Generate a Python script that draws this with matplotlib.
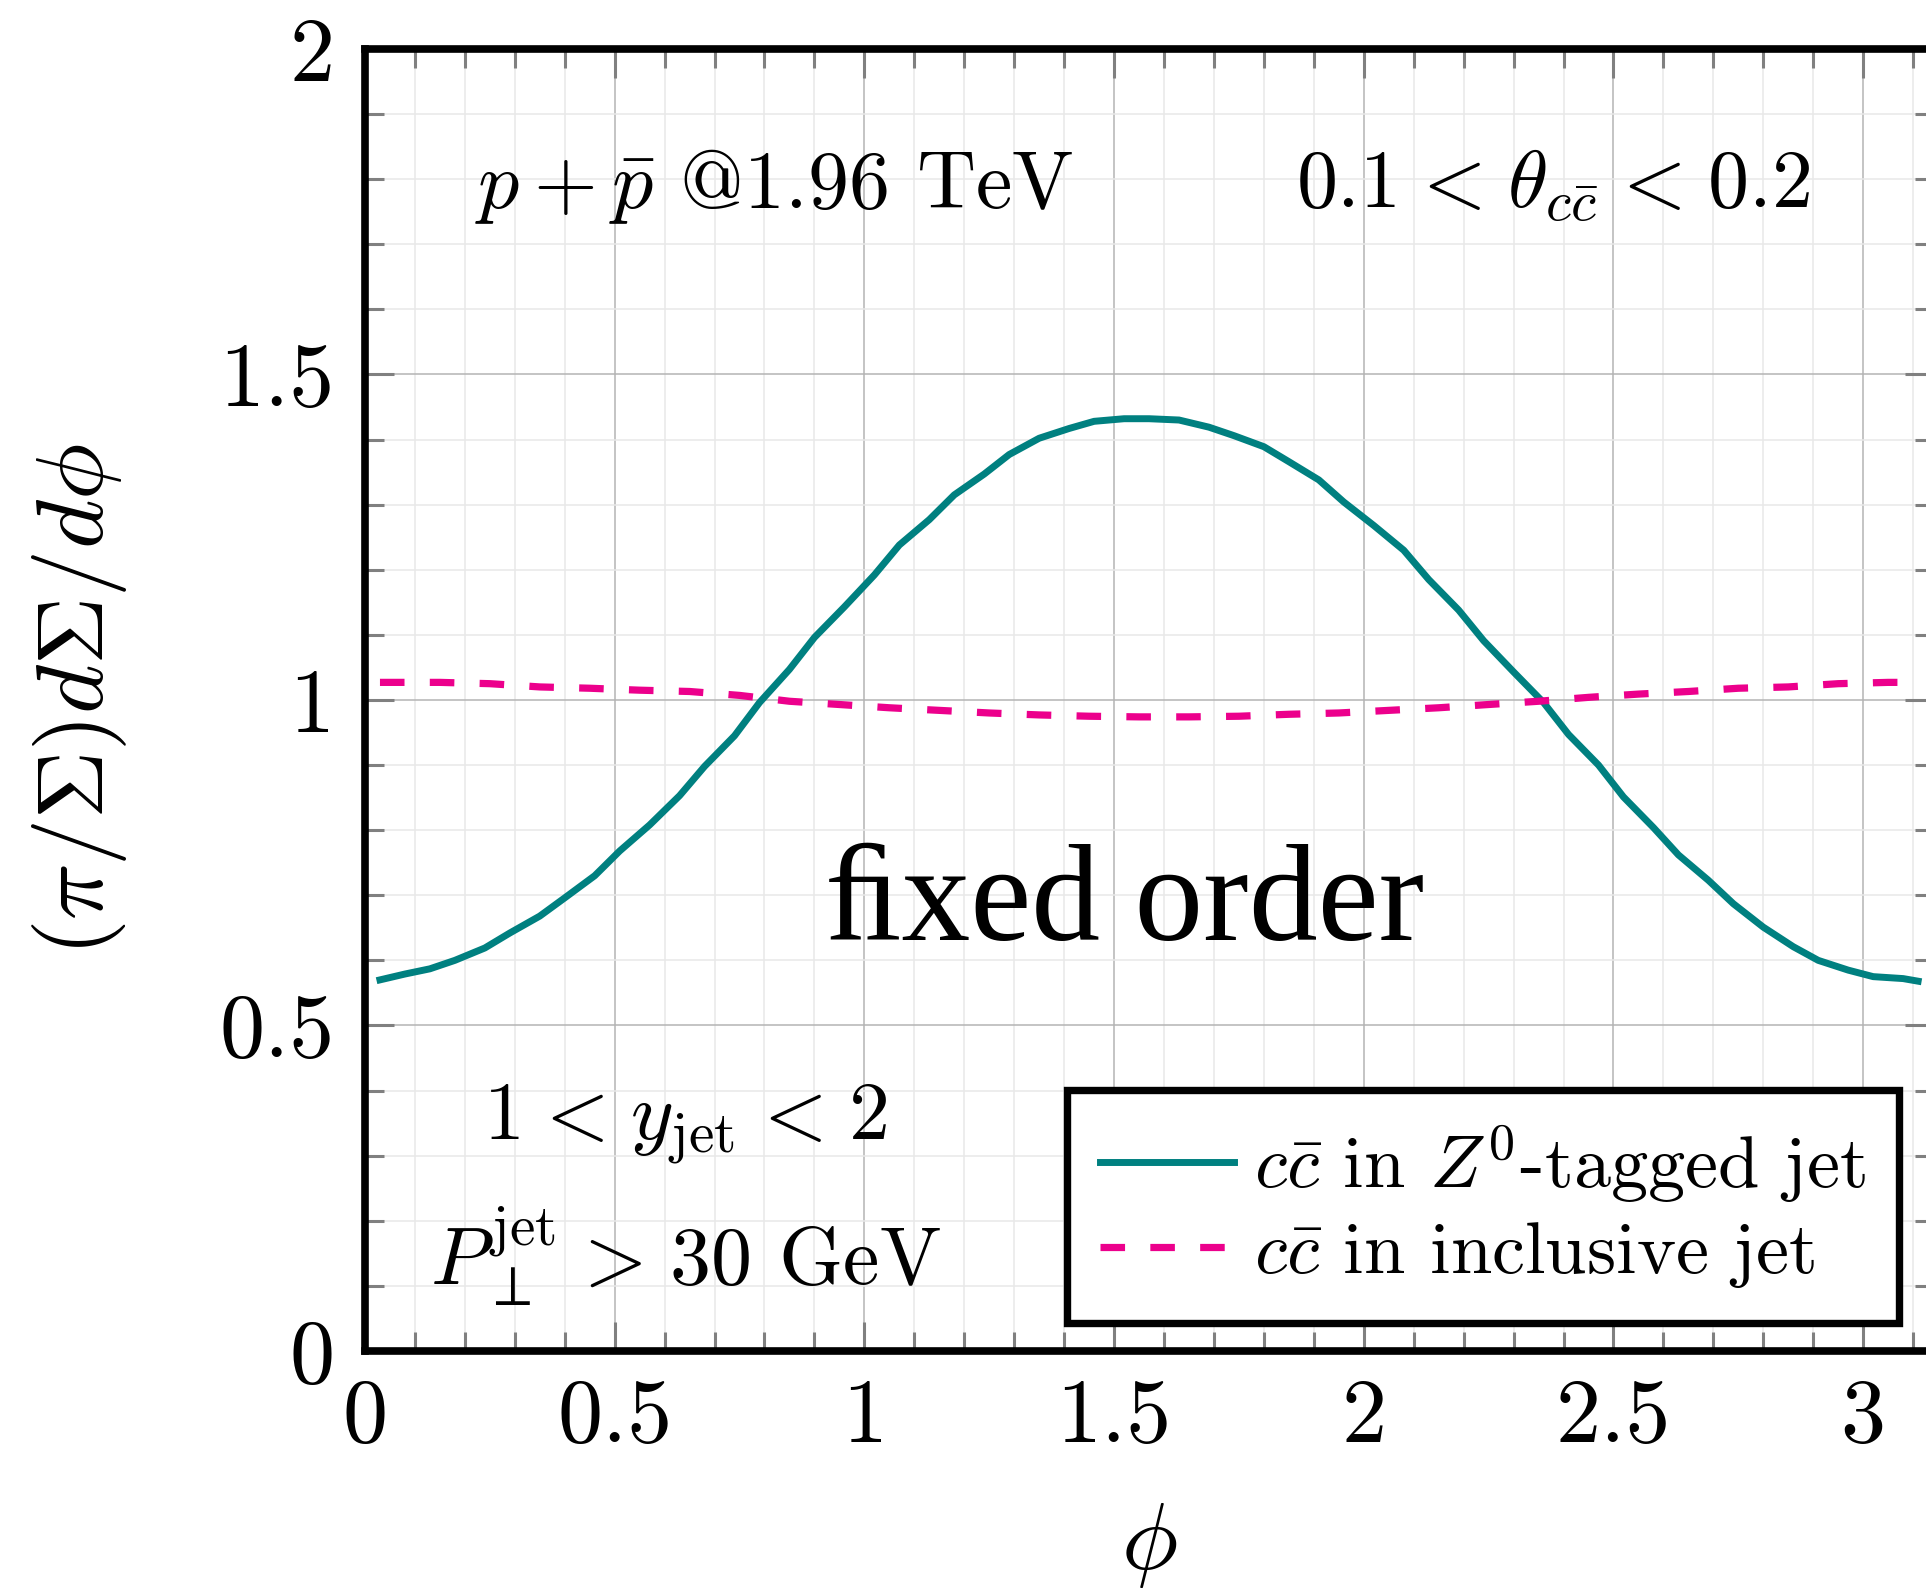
#!/usr/bin/env python3
"""Azimuthal correlation of c-cbar pairs in jets, fixed order."""

import matplotlib
matplotlib.use('Agg')
import matplotlib.pyplot as plt
from matplotlib.ticker import MultipleLocator, FuncFormatter

plt.rcParams['font.family'] = 'cmr10'
plt.rcParams['mathtext.fontset'] = 'cm'
plt.rcParams['axes.unicode_minus'] = False

# c cbar in Z0-tagged jet (solid teal)
teal_phi = [0.03, 0.08, 0.13, 0.18, 0.24, 0.29, 0.35, 0.40, 0.46, 0.51,
            0.57, 0.63, 0.68, 0.74, 0.79, 0.85, 0.90, 0.96, 1.02, 1.07,
            1.13, 1.18, 1.24, 1.29, 1.35, 1.41, 1.46, 1.52, 1.57, 1.63,
            1.69, 1.74, 1.80, 1.85, 1.91, 1.96, 2.02, 2.08, 2.13, 2.19,
            2.24, 2.30, 2.36, 2.41, 2.47, 2.52, 2.58, 2.63, 2.69, 2.74,
            2.80, 2.86, 2.91, 2.97, 3.02, 3.08, 3.11]
teal_val = [0.570, 0.579, 0.587, 0.600, 0.619, 0.642, 0.668, 0.696, 0.730, 0.768,
            0.808, 0.853, 0.898, 0.945, 0.996, 1.047, 1.096, 1.143, 1.192, 1.238,
            1.277, 1.315, 1.347, 1.377, 1.402, 1.417, 1.428, 1.432, 1.432, 1.430,
            1.419, 1.406, 1.389, 1.366, 1.338, 1.304, 1.268, 1.230, 1.185, 1.138,
            1.091, 1.043, 0.996, 0.947, 0.900, 0.851, 0.804, 0.762, 0.723, 0.687,
            0.651, 0.621, 0.600, 0.585, 0.575, 0.572, 0.568]

# c cbar in inclusive jet (dashed pink)
pink_phi = [0.03, 0.15, 0.25, 0.35, 0.45, 0.55, 0.65, 0.75, 0.85, 0.95,
            1.05, 1.15, 1.25, 1.35, 1.45, 1.55, 1.65, 1.75, 1.85, 1.95,
            2.05, 2.15, 2.25, 2.35, 2.45, 2.55, 2.65, 2.75, 2.85, 2.95,
            3.05, 3.11]
pink_val = [1.027, 1.027, 1.025, 1.020, 1.018, 1.015, 1.013, 1.007, 0.998, 0.993,
            0.988, 0.984, 0.980, 0.977, 0.975, 0.974, 0.974, 0.975, 0.978, 0.980,
            0.984, 0.988, 0.993, 0.998, 1.004, 1.009, 1.013, 1.018, 1.020, 1.025,
            1.027, 1.027]

TEAL = '#008080'
PINK = '#EC008C'

fig = plt.figure(figsize=(19.26, 15.89), dpi=100)
ax = fig.add_axes([0.1895, 0.1498, 0.8146, 0.8194])

ax.plot(teal_phi, teal_val, color=TEAL, lw=5.0,
        label=r'$c\bar{c}$ in $Z^0$-tagged jet', zorder=3)
ax.plot(pink_phi, pink_val, color=PINK, lw=5.2, dashes=(3.4, 3.5),
        label=r'$c\bar{c}$ in inclusive jet', zorder=3)

ax.set_xlim(0, 3.14159265)
ax.set_ylim(0, 2)

ax.xaxis.set_major_locator(MultipleLocator(0.5))
ax.xaxis.set_minor_locator(MultipleLocator(0.1))
ax.yaxis.set_major_locator(MultipleLocator(0.5))
ax.yaxis.set_minor_locator(MultipleLocator(0.1))
fmt = FuncFormatter(lambda v, p: ('%g' % round(v, 2)))
ax.xaxis.set_major_formatter(fmt)
ax.yaxis.set_major_formatter(fmt)

ax.grid(True, which='major', color='#b4b4b4', lw=1.1, zorder=0)
ax.grid(True, which='minor', color='#e8e8e8', lw=1.1, zorder=0)
ax.set_axisbelow(True)

ax.tick_params(which='both', direction='in', top=True, right=True,
               color='#808080', width=2.2, labelsize=65)
ax.tick_params(which='major', length=21)
ax.tick_params(which='minor', length=13.5)
ax.tick_params(axis='x', which='major', pad=20)
ax.tick_params(axis='y', which='major', pad=22)

for s in ax.spines.values():
    s.set_linewidth(5.5)
    s.set_color('black')
    s.set_zorder(5)

ax.set_xlabel(r'$\phi$', fontsize=68, va='top')
ax.xaxis.set_label_coords(0.5, -0.115)
ax.set_ylabel(r'$(\pi/\Sigma)d\Sigma/d\phi$', fontsize=68, va='center')
ax.yaxis.set_label_coords(-0.182, 0.5)

sp = r'\hspace{0.1}'
ax.text(0.22, 1.755, r'$p+\bar{p}$ @1.96 TeV', fontsize=59, va='baseline')
ax.text(1.864, 1.755, '$0.1' + sp + '<' + sp + r'\theta_{c\bar{c}}' + sp + '<' + sp + '0.2$',
        fontsize=59, va='baseline')
ax.text(0.236, 0.325, '$1' + sp + '<' + sp + r'y_{\rm jet}' + sp + '<' + sp + '2$',
        fontsize=59, va='baseline')
ax.text(0.13, 0.10, r'$P_\perp^{\rm jet}' + sp + '>' + sp + '30$ GeV',
        fontsize=59, va='baseline')
ax.text(0.922, 0.632, '\ufb01xed order', fontsize=99, va='baseline',
        family=['Liberation Serif', 'DejaVu Serif'])

leg = ax.legend(loc='lower right', bbox_to_anchor=(0.978, 0.0215),
                borderaxespad=0, fontsize=53.5, fancybox=False, framealpha=1,
                edgecolor='black', handlelength=1.8, handletextpad=0.27,
                labelspacing=0.2, borderpad=0.45)
leg.get_frame().set_linewidth(5.3)
leg.set_zorder(6)

plt.savefig('out.png', dpi=100)
plt.close()
